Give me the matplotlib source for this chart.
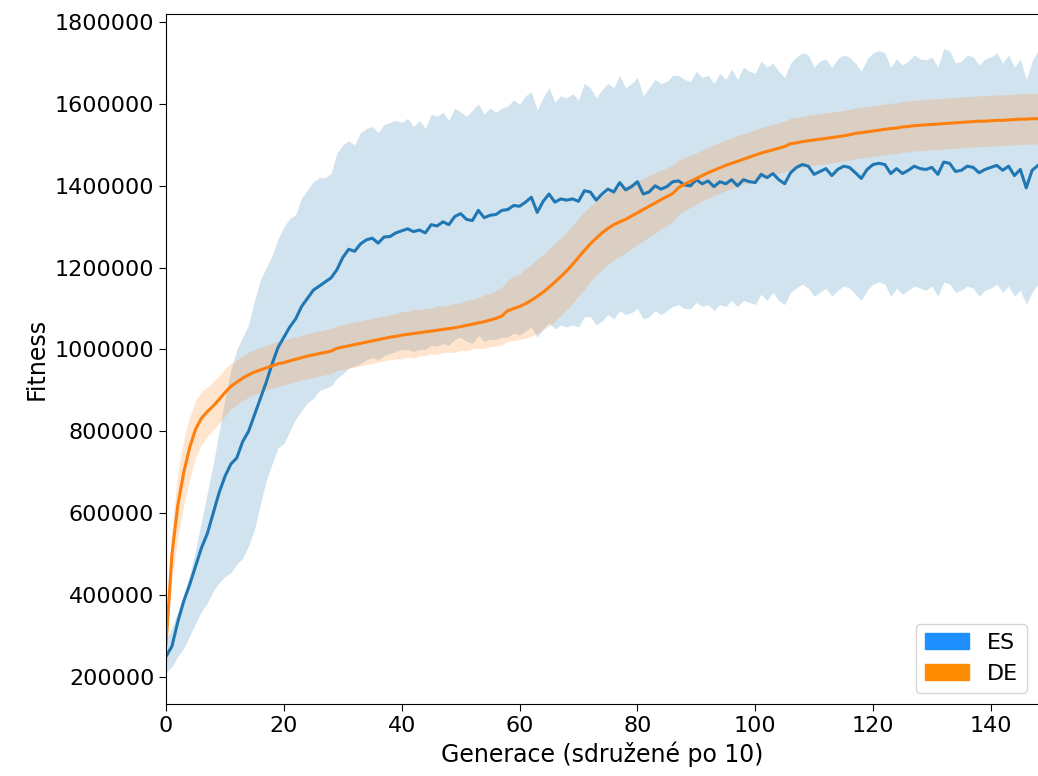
import numpy as np
import matplotlib.pyplot as plt
import matplotlib.patches as mpatches

# hodnoty v tisicich
es_mean = [250,275,335,385,425,470,515,550,600,650,
           690,720,735,775,800,840,880,920,965,1005,
           1030,1055,1075,1105,1125,1145,1155,1165,1175,
           1195,1225,1245,1240,1258,1268,1272,1260,1275,1276,
           1285,1290,1295,1288,1292,1285,1305,1302,1312,1305,
           1325,1332,1318,1315,1340,1322,1328,1330,1340,
           1342,1352,1350,1360,1372,1335,1362,1380,1360,1368,
           1365,1368,1362,1388,1385,1365,1380,1392,1385,1408,
           1390,1398,1410,1380,1385,1400,1392,1398,1410,
           1412,1402,1400,1415,1405,1412,1398,1410,1405,1415,
           1400,1415,1410,1408,1428,1420,1430,1415,1405,
           1432,1445,1452,1448,1428,1435,1442,1425,1440,1448,
           1445,1432,1418,1440,1452,1455,1452,1430,1442,
           1430,1438,1448,1442,1440,1445,1428,1458,1455,1435,
           1438,1448,1445,1432,1440,1445,1450,1438,1448,1425,1440,1395,1438,1450]
es_upper = [290,320,360,400,450,510,580,650,720,800,
            880,950,1000,1030,1060,1120,1170,1200,1230,1270,
            1300,1320,1330,1370,1390,1410,1420,1420,1430,
            1480,1500,1510,1500,1530,1540,1545,1530,1550,1555,
            1560,1555,1565,1545,1560,1540,1575,1570,1580,1560,
            1590,1580,1570,1585,1600,1575,1590,1580,1590,
            1595,1610,1600,1620,1630,1585,1615,1640,1605,1620,
            1615,1625,1610,1650,1640,1615,1635,1650,1640,1670,
            1640,1650,1665,1620,1640,1660,1650,1655,1670,
            1670,1660,1655,1680,1665,1670,1650,1675,1660,1685,
            1660,1690,1680,1675,1705,1690,1700,1680,1665,
            1700,1715,1725,1720,1690,1705,1710,1690,1710,1720,
            1715,1700,1680,1710,1725,1730,1725,1690,1710,
            1695,1705,1720,1710,1708,1715,1690,1735,1730,1700,
            1705,1720,1715,1695,1710,1715,1725,1700,1720,1690,1710,1660,1705,1730]
es_lower = [210,225,250,270,300,330,360,380,410,430,
            445,455,475,490,520,560,620,680,720,760,
            770,800,830,850,870,880,900,905,910,
            930,940,955,960,965,975,980,975,985,990,
            995,1000,1000,995,1000,1000,1010,1008,1015,1010,
            1025,1030,1020,1015,1035,1020,1025,1025,1030,
            1030,1040,1035,1045,1055,1030,1050,1065,1050,1060,
            1055,1060,1055,1080,1080,1060,1070,1085,1075,1095,
            1085,1090,1100,1075,1080,1095,1085,1095,1105,
            1110,1100,1100,1115,1105,1110,1095,1110,1105,1120,
            1105,1120,1115,1110,1135,1120,1140,1120,1110,
            1140,1150,1160,1150,1130,1140,1150,1130,1145,1155,
            1150,1135,1120,1145,1160,1165,1160,1130,1150,
            1135,1145,1155,1150,1145,1155,1130,1165,1160,1140,
            1145,1155,1150,1130,1145,1150,1160,1140,1155,1130,1145,1110,1140,1160]
de_mean = [280,500,620,700,760,805,832,848,862,878,
           895,910,920,930,938,945,950,955,960,965,
           968,972,976,980,984,987,990,993,996,
           1003,1006,1009,1012,1015,1018,1021,1024,1027,1030,
           1032,1035,1037,1039,1041,1043,1045,1047,1049,1051,
           1053,1056,1059,1062,1065,1068,1072,1076,1082,
           1095,1100,1105,1112,1120,1130,1140,1152,1165,1178,
           1192,1208,1225,1242,1258,1272,1285,1296,1305,1312,
           1318,1326,1334,1342,1350,1358,1366,1374,1381,
           1396,1404,1411,1418,1425,1432,1438,1444,1450,1455,
           1460,1465,1470,1475,1480,1484,1488,1492,1496,
           1503,1505,1508,1510,1512,1514,1516,1518,1520,1522,
           1525,1528,1530,1532,1534,1536,1538,1540,1541,
           1544,1545,1547,1548,1549,1550,1551,1552,1553,1554,
           1555,1556,1557,1558,1558,1559,1560,1560,1561,1562,1563,1563,1564,1564]
de_spread = [20,60,80,80,75,70,65,60,60,58,
             58,56,55,55,55,55,55,55,55,55,
             55,55,55,55,55,55,55,55,55,
             55,55,55,55,55,55,55,55,55,55,
             55,58,55,60,56,58,55,60,56,58,
             60,58,62,60,62,65,65,68,70,
             75,78,80,85,88,90,92,95,95,95,
             95,95,95,95,92,90,90,88,86,84,
             82,80,78,76,75,74,72,70,70,
             66,65,64,63,62,62,62,62,62,62,
             62,62,62,62,62,62,62,62,62,
             62,62,62,62,62,62,62,62,62,62,
             62,62,62,62,62,62,62,62,62,
             62,62,62,62,62,62,62,62,62,62,
             62,62,62,62,62,62,62,62,62,62,62,62,62,62]

k = 1000
es_m = np.array(es_mean) * k
es_u = np.array(es_upper) * k
es_l = np.array(es_lower) * k
de_m = np.array(de_mean) * k
de_s = np.array(de_spread) * k
x = np.arange(len(es_m))

fig = plt.figure(figsize=(10.38, 7.76), dpi=100)
ax = fig.add_axes([0.16, 0.093, 0.84, 0.889])
ax.fill_between(x, es_l, es_u, color='C0', alpha=0.2, linewidth=0)
ax.fill_between(x, de_m - de_s, de_m + de_s, color='C1', alpha=0.2, linewidth=0)
ax.plot(x, es_m, color='C0', linewidth=2.2)
ax.plot(x, de_m, color='C1', linewidth=2.2)

ax.set_xlim(0, x[-1])
ax.set_ylim(134000, 1820000)
ax.set_yticks(np.arange(200000, 1800001, 200000))
ax.set_yticklabels([str(v) for v in range(200000, 1800001, 200000)])
ax.tick_params(labelsize=16, length=5)
ax.set_xlabel('Generace (sdružené po 10)', fontsize=17)
ax.set_ylabel('Fitness', fontsize=17)
ax.spines['right'].set_visible(False)

handles = [mpatches.Patch(color='dodgerblue', label='ES'),
           mpatches.Patch(color='darkorange', label='DE')]
ax.legend(handles=handles, loc='lower right', fontsize=16)

fig.savefig('out.png')
